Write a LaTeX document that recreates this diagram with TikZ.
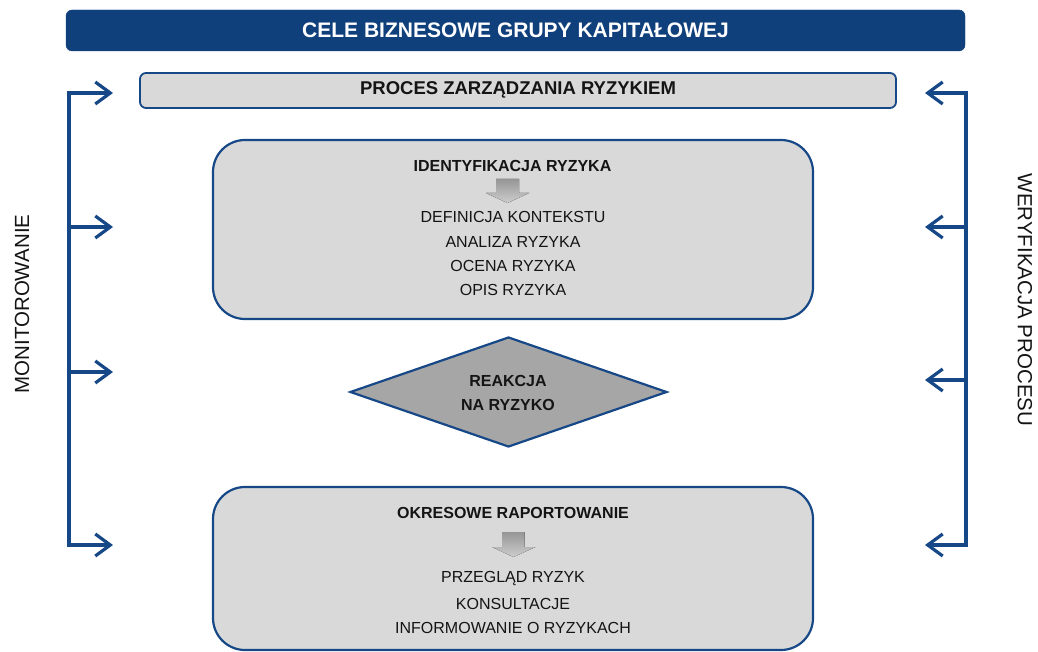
\documentclass[tikz,border=0pt]{standalone}
\usepackage{fontspec}
\setmainfont{Liberation Sans}
\usetikzlibrary{shapes.geometric,arrows.meta}
\definecolor{navy}{RGB}{16,64,124}
\definecolor{edgeblue}{RGB}{22,72,135}
\definecolor{boxgray}{RGB}{217,217,217}
\definecolor{diagray}{RGB}{166,166,166}
\definecolor{txt}{RGB}{20,20,20}
\tikzset{
  banner/.style={fill=navy, draw=navy, rounded corners=6pt, inner sep=0pt, text=white,
    font=\fontsize{21}{24}\selectfont\bfseries},
  procbar/.style={fill=boxgray, draw=edgeblue, line width=1.8pt, rounded corners=6pt, inner sep=0pt},
  bigbox/.style={fill=boxgray, draw=edgeblue, line width=2.2pt, rounded corners=32pt, inner sep=0pt},
  dia/.style={diamond, fill=diagray, draw=edgeblue, line width=2.2pt, inner sep=0pt},
  title/.style={text=txt, font=\fontsize{16}{19}\selectfont\bfseries, inner sep=0pt},
  body/.style={text=txt, font=\fontsize{16}{19}\selectfont, inner sep=0pt},
  side/.style={text=txt, font=\fontsize{20.5}{24}\selectfont, inner sep=0pt},
  bracket/.style={draw=edgeblue, line width=3.2pt},
  barb/.style={bracket, -{Straight Barb[length=15pt,width=22pt,line width=3.2pt]}},
  grayarrow/.style={top color={rgb,255:red,150;green,150;blue,150}, bottom color={rgb,255:red,205;green,205;blue,205}, draw=none}
}
\begin{document}
\begin{tikzpicture}[x=1pt,y=-1pt]
\useasboundingbox (0,0) rectangle (1038,652);
% banner
\node[banner, minimum width=899pt, minimum height=41pt] (cele) at (515.5,30.5) {CELE BIZNESOWE GRUPY KAPITAŁOWEJ};
% process bar
\node[procbar, minimum width=756pt, minimum height=35pt] (proc) at (518,90.5) {};
\node[title, font=\fontsize{18.5}{22}\selectfont\bfseries] (proct) at (518,90) {PROCES ZARZĄDZANIA RYZYKIEM};
% identification box
\node[bigbox, minimum width=600pt, minimum height=179pt] (ident) at (513,229.5) {};
\node[title] (idt) at (512.5,166) {IDENTYFIKACJA RYZYKA};
\fill[grayarrow] (496,179) -- (519,179) -- (519,193) -- (529,193) -- (507.5,203) -- (486,193) -- (496,193) -- cycle;
\node[body] (id1) at (513,217) {DEFINICJA KONTEKSTU};
\node[body] (id2) at (513,242) {ANALIZA RYZYKA};
\node[body] (id3) at (513,266) {OCENA RYZYKA};
\node[body] (id4) at (513,290) {OPIS RYZYKA};
% diamond
\node[dia, minimum width=317pt, minimum height=110pt] (reak) at (508.5,392) {};
\node[title] (rk1) at (508,381) {REAKCJA};
\node[title] (rk2) at (508,405) {NA RYZYKO};
% reporting box
\node[bigbox, minimum width=600pt, minimum height=163pt] (rap) at (513,568.5) {};
\node[title] (rpt) at (513,513) {OKRESOWE RAPORTOWANIE};
\fill[grayarrow] (502,532) -- (524.5,532) -- (524.5,547) -- (535.5,547) -- (513.5,557) -- (492,547) -- (502,547) -- cycle;
\node[body] (rp1) at (513,579) {PRZEGLĄD RYZYK};
\node[body] (rp2) at (513,604) {KONSULTACJE};
\node[body] (rp3) at (513,628) {INFORMOWANIE O RYZYKACH};
% left bracket
\coordinate (L1) at (69,93);
\coordinate (L2) at (69,227);
\coordinate (L3) at (69,372);
\coordinate (L4) at (69,545);
\coordinate (LT1) at (113,93);
\coordinate (LT2) at (113,227);
\coordinate (LT3) at (113,372);
\coordinate (LT4) at (113,545);
\draw[bracket] ([yshift=1.6pt]L1) -- ([yshift=-1.6pt]L4);
\draw[barb] ([xshift=-1.6pt]L1) -- (LT1);
\draw[barb] (L2) -- (LT2);
\draw[barb] (L3) -- (LT3);
\draw[barb] ([xshift=-1.6pt]L4) -- (LT4);
% right bracket
\coordinate (R1) at (966,93);
\coordinate (R2) at (966,227);
\coordinate (R3) at (966,380);
\coordinate (R4) at (966,545);
\coordinate (RT1) at (925,93);
\coordinate (RT2) at (925,227);
\coordinate (RT3) at (925,380);
\coordinate (RT4) at (925,545);
\draw[bracket] ([yshift=1.6pt]R1) -- ([yshift=-1.6pt]R4);
\draw[barb] ([xshift=1.6pt]R1) -- (RT1);
\draw[barb] (R2) -- (RT2);
\draw[barb] (R3) -- (RT3);
\draw[barb] ([xshift=1.6pt]R4) -- (RT4);
% side labels
\node[side, rotate=90] (mon) at (22,304) {MONITOROWANIE};
\node[side, rotate=-90] (wer) at (1025,300) {WERYFIKACJA PROCESU};
\end{tikzpicture}
\end{document}
